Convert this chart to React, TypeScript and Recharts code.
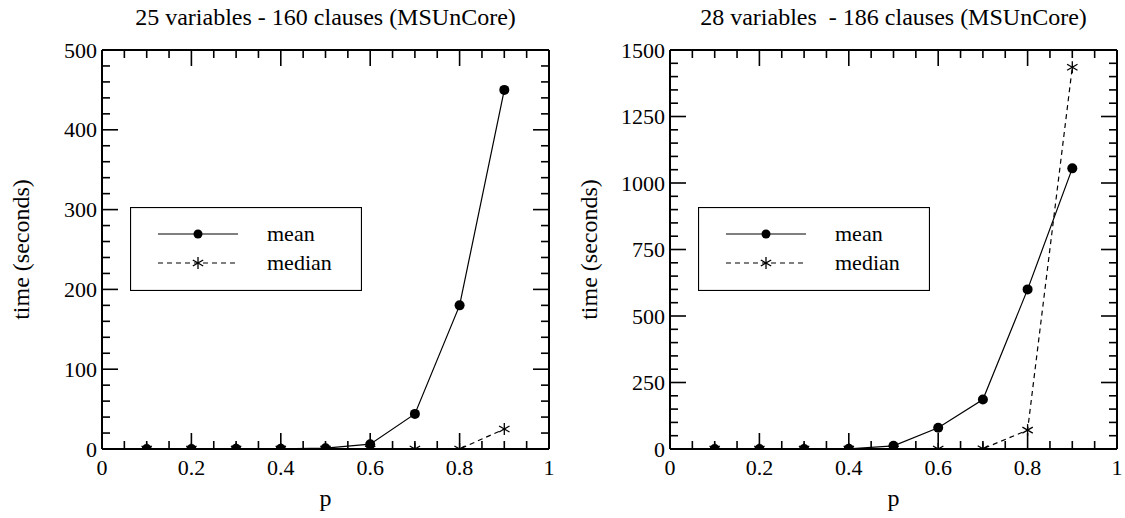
import { LineChart, Line, XAxis, YAxis, Legend } from "recharts";

// probability p on the x axis
const pValues = [0.1, 0.2, 0.3, 0.4, 0.5, 0.6, 0.7, 0.8, 0.9];

// 25 variables - 160 clauses
const mean25 = [0.1, 0.1, 0.2, 0.3, 1, 6, 44, 180, 450];
const median25 = [0, 0, 0, 0, 0, 0, 0, 0, 25];

// 28 variables - 186 clauses
const mean28 = [0.1, 0.2, 0.3, 0.5, 12, 80, 186, 600, 1055];
const median28 = [0, 0, 0, 0, 0, 0, 1, 71, 1435];

const seriesNames = ["mean", "median"];

const xMajorTicks = [0, 0.2, 0.4, 0.6, 0.8, 1];
const xMinorTicks = [0.05, 0.1, 0.15, 0.25, 0.3, 0.35, 0.45, 0.5, 0.55, 0.65, 0.7, 0.75, 0.85, 0.9, 0.95];

const yMajorTicks25 = [0, 100, 200, 300, 400, 500];
const yMinorTicks25 = [20, 40, 60, 80, 120, 140, 160, 180, 220, 240, 260, 280, 320, 340, 360, 380, 420, 440, 460, 480];

const yMajorTicks28 = [0, 250, 500, 750, 1000, 1250, 1500];
const yMinorTicks28 = [
  50, 100, 150, 200, 300, 350, 400, 450, 550, 600, 650, 700, 800, 850, 900, 950, 1050, 1100, 1150, 1200, 1300,
  1350, 1400, 1450,
];

const FONT = '"Liberation Serif", "Times New Roman", serif';
const MAJOR_LEN = 16;
const MINOR_LEN = 8;

type Side = "bottom" | "top" | "left" | "right";

// ticks point into the plot, labels sit outside
const makeTick = (side: Side, majors: number[], labels: boolean) => (props: any) => {
  const { x, y, payload } = props;
  const major = majors.includes(payload.value);
  const len = major ? MAJOR_LEN : MINOR_LEN;
  let line;
  if (side === "bottom") line = { x1: x, x2: x, y1: y, y2: y - len };
  else if (side === "top") line = { x1: x, x2: x, y1: y, y2: y + len };
  else if (side === "left") line = { x1: x, x2: x + len, y1: y, y2: y };
  else line = { x1: x, x2: x - len, y1: y, y2: y };
  return (
    <g>
      <line {...line} stroke="#000" strokeWidth={1.6} />
      {labels && major && (
        <text
          x={side === "left" ? x - 5 : x}
          y={side === "left" ? y + 7.5 : y + 26}
          textAnchor={side === "left" ? "end" : "middle"}
          fontSize={22}
          fontFamily={FONT}
          fill="#000"
        >
          {String(payload.value)}
        </text>
      )}
    </g>
  );
};

const MeanDot = (props: any) => {
  const { cx, cy } = props;
  if (cx == null || cy == null) return <g />;
  return <circle cx={cx} cy={cy} r={5} fill="#000" />;
};

const Star = ({ cx, cy, s }: { cx: number; cy: number; s: number }) => {
  const dx = s * 0.866;
  const dy = s * 0.5;
  return (
    <g stroke="#000" strokeWidth={1.3}>
      <line x1={cx} x2={cx} y1={cy - s} y2={cy + s} />
      <line x1={cx - dx} x2={cx + dx} y1={cy - dy} y2={cy + dy} />
      <line x1={cx - dx} x2={cx + dx} y1={cy + dy} y2={cy - dy} />
    </g>
  );
};

const MedianDot = (props: any) => {
  const { cx, cy } = props;
  if (cx == null || cy == null) return <g />;
  return <Star cx={cx} cy={cy} s={6} />;
};

const LegendBox = () => (
  <svg width={232} height={84} style={{ display: "block" }}>
    <rect x={0.5} y={0.5} width={231} height={83} fill="#fff" stroke="#000" strokeWidth={1.2} />
    {seriesNames.map((name, i) => {
      const ry = 27 + i * 29;
      return (
        <g key={name}>
          <line x1={28} x2={108} y1={ry} y2={ry} stroke="#000" strokeWidth={1.2} strokeDasharray={i === 0 ? undefined : "5 4"} />
          {i === 0 ? <circle cx={68} cy={ry} r={4.5} fill="#000" /> : <Star cx={68} cy={ry} s={6} />}
          <text x={137} y={ry + 7} fontSize={22} fontFamily={FONT} fill="#000">
            {name}
          </text>
        </g>
      );
    })}
  </svg>
);

interface PanelProps {
  left: number;
  width: number;
  plotLeft: number;
  plotRight: number;
  title: string;
  mean: number[];
  median: number[];
  yMax: number;
  yMajor: number[];
  yMinor: number[];
}

function Panel({ left, width, plotLeft, plotRight, title, mean, median, yMax, yMajor, yMinor }: PanelProps) {
  const data = pValues.map((p, i) => ({ p, mean: mean[i], median: median[i] }));
  const xTicks = [...xMajorTicks, ...xMinorTicks];
  const yTicks = [...yMajor, ...yMinor];
  const axisLine = { stroke: "#000", strokeWidth: 2 };

  return (
    <div style={{ position: "absolute", left, top: 0, width, height: 518 }}>
      <LineChart width={width} height={518} data={data} margin={{ top: 40, right: 0, bottom: 0, left: 0 }}>
        <XAxis
          xAxisId="bottom"
          dataKey="p"
          type="number"
          domain={[0, 1]}
          allowDataOverflow
          ticks={xTicks}
          interval={0}
          height={69}
          tickSize={0}
          tickMargin={0}
          tickLine={false}
          axisLine={axisLine}
          tick={makeTick("bottom", xMajorTicks, true)}
          label={{ value: "p", position: "insideBottom", offset: 12, style: { fontSize: 24, fontFamily: FONT, fill: "#000" } }}
        />
        <XAxis
          xAxisId="top"
          orientation="top"
          dataKey="p"
          type="number"
          domain={[0, 1]}
          allowDataOverflow
          ticks={xTicks}
          interval={0}
          height={10}
          tickSize={0}
          tickMargin={0}
          tickLine={false}
          axisLine={axisLine}
          tick={makeTick("top", xMajorTicks, false)}
        />
        <YAxis
          yAxisId="left"
          type="number"
          domain={[0, yMax]}
          allowDataOverflow
          ticks={yTicks}
          interval={0}
          width={plotLeft}
          tickSize={0}
          tickMargin={0}
          tickLine={false}
          axisLine={axisLine}
          tick={makeTick("left", yMajor, true)}
          label={{
            value: "time (seconds)",
            angle: -90,
            position: "insideLeft",
            offset: plotLeft - 82,
            style: { textAnchor: "middle", fontSize: 24, fontFamily: FONT, fill: "#000" },
          }}
        />
        <YAxis
          yAxisId="right"
          orientation="right"
          type="number"
          domain={[0, yMax]}
          allowDataOverflow
          ticks={yTicks}
          interval={0}
          width={width - plotRight}
          tickSize={0}
          tickMargin={0}
          tickLine={false}
          axisLine={axisLine}
          tick={makeTick("right", yMajor, false)}
        />
        <Legend
          layout="horizontal"
          verticalAlign="middle"
          align="center"
          content={() => <LegendBox />}
          wrapperStyle={{ left: plotLeft + 28, top: 207, width: 232, height: 84 }}
        />
        {/* invisible copy so the top/right frame axes get the same scale */}
        <Line
          xAxisId="top"
          yAxisId="right"
          dataKey="mean"
          stroke="none"
          dot={false}
          legendType="none"
          isAnimationActive={false}
        />
        <Line
          xAxisId="bottom"
          yAxisId="left"
          type="linear"
          dataKey="median"
          name="median"
          stroke="#000"
          strokeWidth={1.2}
          strokeDasharray="5 4"
          dot={MedianDot}
          isAnimationActive={false}
        />
        <Line
          xAxisId="bottom"
          yAxisId="left"
          type="linear"
          dataKey="mean"
          name="mean"
          stroke="#000"
          strokeWidth={1.2}
          dot={MeanDot}
          isAnimationActive={false}
        />
      </LineChart>
      <div
        style={{
          position: "absolute",
          left: plotLeft,
          width: plotRight - plotLeft,
          top: 3,
          height: 28,
          lineHeight: "28px",
          textAlign: "center",
          whiteSpace: "pre",
          fontFamily: FONT,
          fontSize: 24,
          color: "#000",
        }}
      >
        {title}
      </div>
    </div>
  );
}

export default function App() {
  return (
    <div style={{ position: "absolute", left: 0, top: 0, width: 1125, height: 518, background: "#fff" }}>
      <Panel
        left={0}
        width={562}
        plotLeft={102}
        plotRight={549}
        title="25 variables - 160 clauses (MSUnCore)"
        mean={mean25}
        median={median25}
        yMax={500}
        yMajor={yMajorTicks25}
        yMinor={yMinorTicks25}
      />
      <Panel
        left={562}
        width={563}
        plotLeft={108}
        plotRight={555}
        title="28 variables  - 186 clauses (MSUnCore)"
        mean={mean28}
        median={median28}
        yMax={1500}
        yMajor={yMajorTicks28}
        yMinor={yMinorTicks28}
      />
    </div>
  );
}
